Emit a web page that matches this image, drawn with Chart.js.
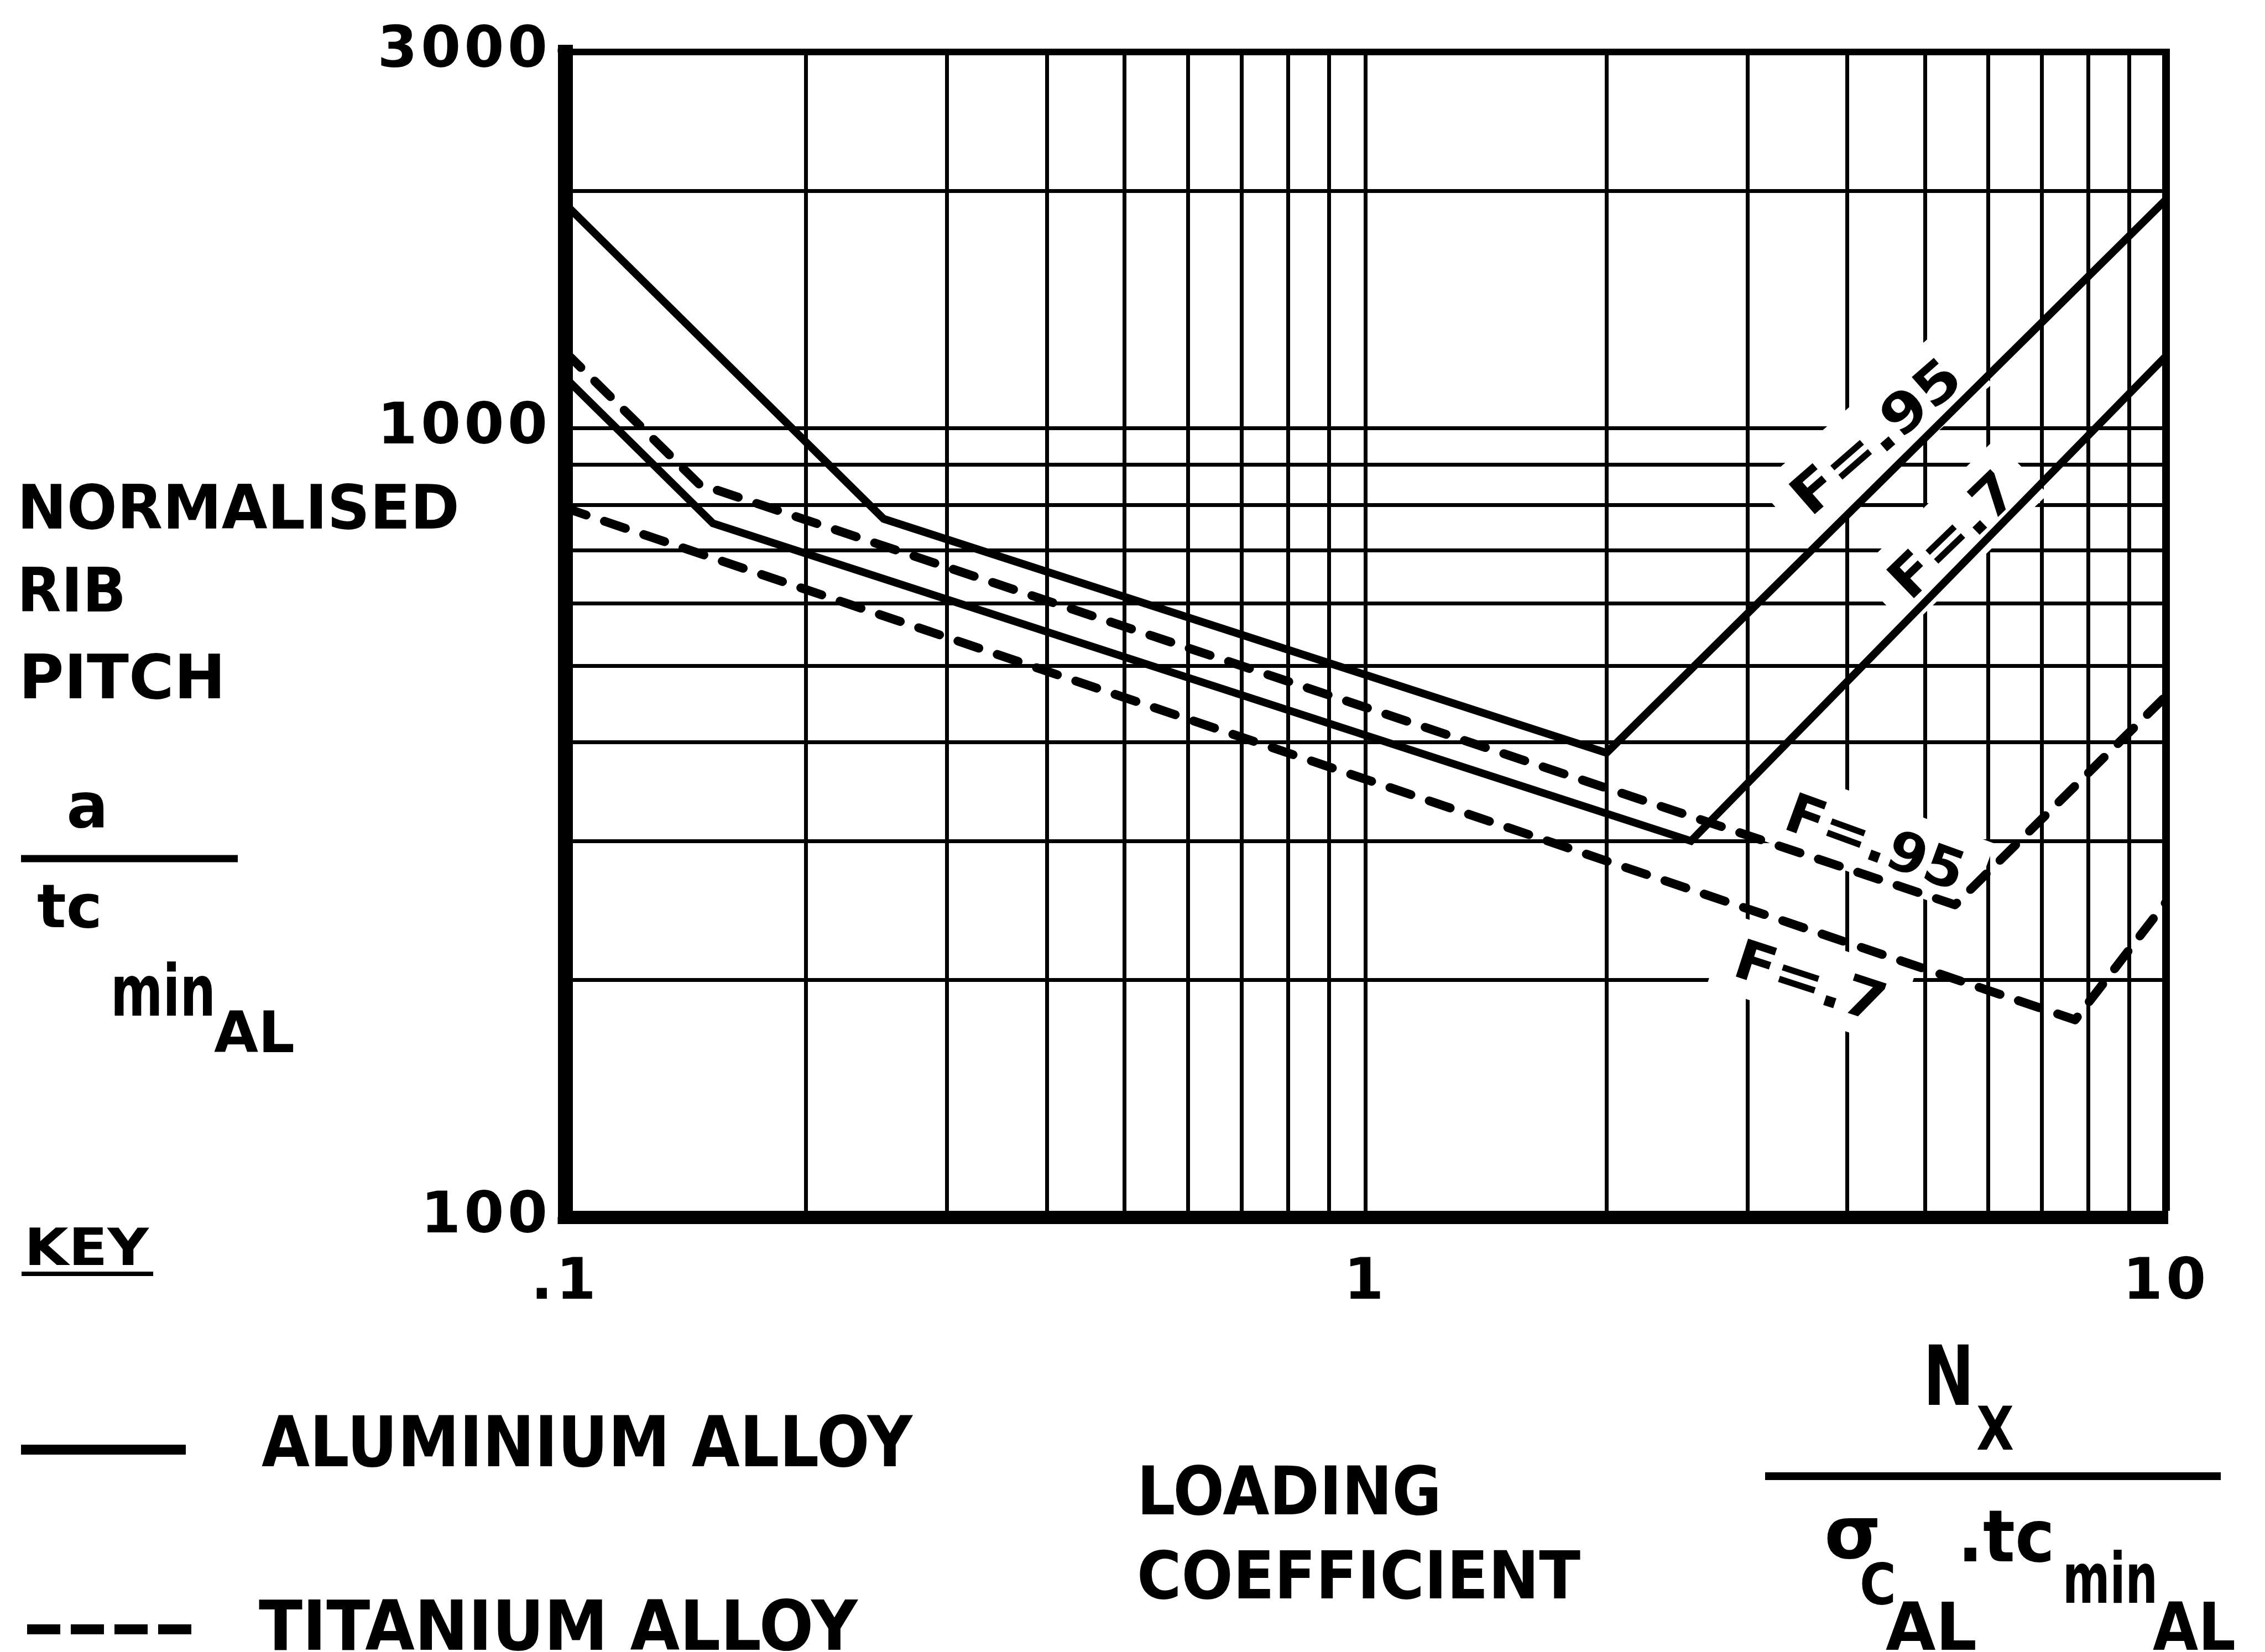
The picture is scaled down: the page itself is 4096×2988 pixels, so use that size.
<!DOCTYPE html>
<html>
<head>
<meta charset="utf-8">
<title>Normalised rib pitch against loading coefficient</title>
<script src="https://cdn.jsdelivr.net/npm/chart.js@4.4.1/dist/chart.umd.min.js"></script>
<style>
  html, body { margin: 0; padding: 0; background: #fff; }
  canvas { display: block; }
</style>
</head>
<body>
<canvas id="chart" width="4096" height="2988"></canvas>
<script>
// Corner points of each design curve:
// loading coefficient Nx / (σc_AL · tc_min_AL) against normalised rib pitch a / tc_min_AL
const alF95X = [0.1, 0.25, 2.0, 10];
const alF95Y = [1925, 768, 388, 1950];
const alF7X  = [0.1, 0.153, 2.55, 10];
const alF7Y  = [1160, 758, 300, 1235];
const tiF95X = [0.1, 0.147, 5.45, 10];
const tiF95Y = [1250, 850, 249, 458];
const tiF7X  = [0.1, 7.7, 10];
const tiF7Y  = [793, 178, 251];

const curveLabels = ['F=.95', 'F=.7', 'F=.95', 'F=.7'];

// Log grid positions, and the few of them that carry a number
const xGrid = [0.1, 0.2, 0.3, 0.4, 0.5, 0.6, 0.7, 0.8, 0.9, 1, 2, 3, 4, 5, 6, 7, 8, 9, 10];
const yGrid = [100, 200, 300, 400, 500, 600, 700, 800, 900, 1000, 2000, 3000];
const xTickValues = [0.1, 1, 10];
const xTickText = ['.1', '1', '10'];
const yTickValues = [100, 1000, 3000];
const yTickText = ['100', '1000', '3000'];

const FONT = '"DejaVu Sans", "Liberation Sans", sans-serif';
const INK = '#000';

function pts(xs, ys) { return xs.map((x, i) => ({ x: x, y: ys[i] })); }
function tickText(v, values, texts) {
  const i = values.findIndex(t => Math.abs(t - v) < 1e-9 * Math.max(1, t));
  return i < 0 ? '' : texts[i];
}

// Write one piece of text; optional stretch to a given width, rotation, centring
function put(ctx, str, x, y, size, o) {
  o = o || {};
  ctx.save();
  ctx.font = (o.weight || 'bold') + ' ' + size + 'px ' + FONT;
  ctx.letterSpacing = (o.spacing || 0) + 'px';
  ctx.textBaseline = 'alphabetic';
  ctx.textAlign = 'left';
  ctx.fillStyle = INK;
  const w = ctx.measureText(str).width;
  const sx = o.width ? o.width / w : 1;
  ctx.translate(x, y);
  if (o.angle) ctx.rotate(o.angle * Math.PI / 180);
  ctx.scale(sx, 1);
  const dx = o.center ? -w / 2 : 0;
  const dy = o.middle ? size * 0.729 / 2 : 0;
  ctx.fillText(str, dx, dy);
  ctx.restore();
}
function rule(ctx, x1, y1, x2, y2, lw, dash) {
  ctx.save();
  ctx.strokeStyle = INK;
  ctx.lineWidth = lw;
  ctx.lineCap = 'butt';
  ctx.setLineDash(dash || []);
  ctx.beginPath();
  ctx.moveTo(x1, y1);
  ctx.lineTo(x2, y2);
  ctx.stroke();
  ctx.restore();
}

// Where each curve's F value is written (data coordinates, text angle in degrees)
const notes = [
  { at: [4.33, 980], angle: -41, width: 372, size: 99 },
  { at: [5.4, 735],  angle: -44, width: 280, size: 99 },
  { at: [4.34, 300], angle: 20,  width: 337, size: 99 },
  { at: [3.6, 200],  angle: 18,  width: 282, size: 99 },
];

// Axis titles and key, in page pixels: text, left, baseline, size, width
const pageText = [
  ['NORMALISED', 31, 956, 111, 800],
  ['RIB', 31, 1106, 111, 197],
  ['PITCH', 34, 1263, 111, 374],
  ['tc', 67, 1677, 108, 118],
  ['min', 200, 1837, 128, 190],
  ['AL', 387, 1903, 104, 146],
  ['KEY', 44, 2288, 93, 225],
  ['ALUMINIUM ALLOY', 473, 2652, 126, 1177],
  ['TITANIUM ALLOY', 468, 2984, 124, 1083],
  ['LOADING', 2056, 2739, 122, 551],
  ['COEFFICIENT', 2056, 2891, 120, 802],
  ['N', 3478, 2541, 150, 92],
  ['X', 3574, 2622, 108, 68],
  ['C', 3363, 2902, 104, 66],
  ['AL', 3410, 2984, 120, 165],
  ['.tc', 3540, 2824, 130, 176],
  ['min', 3730, 2899, 126, 172],
  ['AL', 3893, 2984, 120, 150],
];

const decor = {
  id: 'decor',
  beforeDraw(chart) {
    const ctx = chart.ctx;
    ctx.save();
    ctx.fillStyle = '#fff';
    ctx.fillRect(0, 0, chart.width, chart.height);
    ctx.restore();
    ctx.letterSpacing = '6px';   // spaced-out axis numbers
  },
  beforeDatasetsDraw(chart) {
    const ctx = chart.ctx;
    ctx.letterSpacing = '0px';
    const xs = chart.scales.x, ys = chart.scales.y;
    // blank the grid behind each F label
    notes.forEach(n => {
      const px = xs.getPixelForValue(n.at[0]);
      const py = ys.getPixelForValue(n.at[1]);
      const w = n.width + 70, h = n.size * 0.729 + 66;
      ctx.save();
      ctx.translate(px, py);
      ctx.rotate(n.angle * Math.PI / 180);
      ctx.fillStyle = '#fff';
      ctx.fillRect(-w / 2, -h / 2, w, h);
      ctx.restore();
    });
  },
  afterDatasetsDraw(chart) {
    const ctx = chart.ctx;
    const xs = chart.scales.x, ys = chart.scales.y;
    notes.forEach((n, i) => {
      put(ctx, curveLabels[i], xs.getPixelForValue(n.at[0]), ys.getPixelForValue(n.at[1]), n.size,
          { angle: n.angle, width: n.width, center: true, middle: true });
    });
  },
  afterDraw(chart) {
    const ctx = chart.ctx;
    const a = chart.chartArea;
    // square off the frame corners
    ctx.save();
    ctx.fillStyle = INK;
    ctx.fillRect(a.left - 13.5, a.bottom - 1, 14, 13);
    ctx.fillRect(a.left - 13.5, a.top - 6, 14, 7);
    ctx.fillRect(a.right - 1, a.top - 6, 8, 7);
    ctx.restore();

    pageText.forEach(t => put(ctx, t[0], t[1], t[2], t[3], { width: t[4] }));
    put(ctx, 'a', 158, 1496, 112, { center: true });
    put(ctx, 'σ', 3299, 2818, 132);

    rule(ctx, 38, 1553, 430, 1553, 13);          // a / tc_min_AL
    rule(ctx, 39, 2304, 277, 2304, 8);           // KEY underline
    rule(ctx, 38, 2622, 336, 2622, 18);          // aluminium sample
    rule(ctx, 49, 2947, 347, 2947, 18, [60, 19]); // titanium sample
    rule(ctx, 3192, 2670, 4016, 2670, 14);       // Nx / σc.tc
  }
};

const solid = { borderColor: INK, borderWidth: 14, pointRadius: 0, tension: 0,
                borderJoinStyle: 'miter', borderCapStyle: 'butt', fill: false };
const dashed = Object.assign({}, solid, { borderWidth: 16, borderDash: [40, 35],
                borderCapStyle: 'round', borderJoinStyle: 'round' });

const tickFont = { family: FONT, size: 104, weight: 'bold' };

new Chart(document.getElementById('chart'), {
  type: 'line',
  data: {
    datasets: [
      Object.assign({ label: 'Aluminium alloy F=.95', data: pts(alF95X, alF95Y) }, solid),
      Object.assign({ label: 'Aluminium alloy F=.7',  data: pts(alF7X, alF7Y) }, solid),
      Object.assign({ label: 'Titanium alloy F=.95',  data: pts(tiF95X, tiF95Y) }, dashed),
      Object.assign({ label: 'Titanium alloy F=.7',   data: pts(tiF7X, tiF7Y) }, dashed),
    ]
  },
  options: {
    responsive: false,
    animation: false,
    devicePixelRatio: 1,
    events: [],
    layout: { padding: { left: 0, right: 179, top: 94, bottom: 0 } },
    plugins: { legend: { display: false }, tooltip: { enabled: false }, title: { display: false } },
    scales: {
      x: {
        type: 'logarithmic', position: 'bottom', min: 0.1, max: 10,
        afterBuildTicks: s => { s.ticks = xGrid.map(v => ({ value: v })); },
        afterFit: s => { s.height = 786; },
        grid: { color: INK, drawTicks: false,
                lineWidth: c => (c.tick && c.tick.value === 10) ? 14 : 7 },
        border: { color: INK, width: 24 },
        ticks: { color: INK, font: tickFont, padding: 58, maxRotation: 0, autoSkip: false,
                 callback: v => tickText(v, xTickValues, xTickText) }
      },
      y: {
        type: 'logarithmic', position: 'left', min: 100, max: 3000,
        afterBuildTicks: s => { s.ticks = yGrid.map(v => ({ value: v })); },
        afterFit: s => { s.width = 1022; },
        grid: { color: INK, drawTicks: false,
                lineWidth: c => (c.tick && c.tick.value === 3000) ? 12 : 7 },
        border: { color: INK, width: 27 },
        ticks: { color: INK, font: tickFont, padding: 26, autoSkip: false,
                 callback: v => tickText(v, yTickValues, yTickText) }
      }
    }
  },
  plugins: [decor]
});
</script>
</body>
</html>
